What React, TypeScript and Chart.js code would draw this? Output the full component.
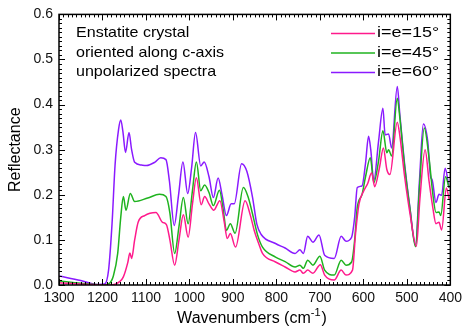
import React, { useEffect, useRef } from "react";
import { Chart, registerables } from "chart.js";

Chart.register(...registerables);

// i=e=60° (purple)
const wn60 = [1300, 1250, 1210, 1195, 1186, 1178, 1171, 1163, 1158, 1153, 1147, 1139, 1133, 1126, 1110, 1099, 1080, 1066, 1054, 1046, 1035, 1025, 1015, 1004, 995, 986, 974, 966, 955, 945, 934, 925, 915, 904, 897, 880, 868, 855, 845, 835, 802, 780, 757, 746, 738, 728, 716, 702, 689, 667, 651, 640, 627, 620, 614, 603, 595, 588, 583, 576, 565, 555, 550, 542, 535, 522, 516, 505, 493, 480, 471, 462, 452, 445, 442, 433, 426, 420, 412, 403];
const refl60 = [0.020, 0.010, 0.001, 0.002, 0.033, 0.136, 0.267, 0.345, 0.366, 0.340, 0.294, 0.338, 0.300, 0.272, 0.266, 0.265, 0.272, 0.282, 0.278, 0.230, 0.132, 0.200, 0.273, 0.203, 0.260, 0.338, 0.264, 0.273, 0.240, 0.194, 0.237, 0.200, 0.154, 0.180, 0.180, 0.269, 0.252, 0.195, 0.135, 0.112, 0.092, 0.082, 0.070, 0.078, 0.070, 0.108, 0.095, 0.111, 0.066, 0.059, 0.108, 0.097, 0.106, 0.150, 0.216, 0.220, 0.270, 0.330, 0.300, 0.231, 0.319, 0.392, 0.333, 0.335, 0.304, 0.440, 0.377, 0.267, 0.172, 0.088, 0.231, 0.357, 0.319, 0.238, 0.234, 0.183, 0.201, 0.199, 0.259, 0.216];

// i=e=45° (green)
const wn45 = [1300, 1250, 1200, 1185, 1175, 1165, 1158, 1152, 1146, 1136, 1126, 1096, 1069, 1054, 1045, 1034, 1024, 1014, 1003, 993, 984, 974, 965, 955, 945, 931, 922, 915, 906, 895, 876, 865, 855, 843, 832, 802, 780, 757, 746, 738, 728, 716, 700, 689, 667, 651, 640, 627, 620, 614, 603, 595, 584, 576, 565, 555, 546, 542, 535, 522, 516, 505, 493, 480, 471, 460, 449, 440, 433, 426, 422, 411, 403];
const refl45 = [0.009, 0.004, 0.000, 0.003, 0.020, 0.070, 0.150, 0.196, 0.166, 0.203, 0.185, 0.193, 0.201, 0.196, 0.160, 0.070, 0.130, 0.194, 0.136, 0.210, 0.273, 0.209, 0.222, 0.205, 0.176, 0.210, 0.165, 0.121, 0.136, 0.115, 0.216, 0.195, 0.158, 0.110, 0.084, 0.062, 0.052, 0.040, 0.044, 0.037, 0.055, 0.044, 0.064, 0.033, 0.022, 0.055, 0.044, 0.051, 0.100, 0.172, 0.201, 0.240, 0.282, 0.227, 0.275, 0.342, 0.293, 0.300, 0.286, 0.414, 0.370, 0.262, 0.170, 0.085, 0.215, 0.348, 0.282, 0.200, 0.161, 0.162, 0.154, 0.240, 0.216];

// i=e=15° (pink)
const wn15 = [1300, 1250, 1190, 1171, 1160, 1152, 1142, 1137, 1133, 1126, 1118, 1103, 1077, 1062, 1053, 1045, 1034, 1024, 1014, 1003, 993, 984, 973, 965, 955, 944, 930, 920, 913, 906, 894, 872, 860, 851, 840, 832, 802, 780, 757, 746, 738, 728, 716, 699, 689, 667, 651, 640, 625, 618, 610, 599, 590, 581, 574, 563, 554, 546, 539, 522, 516, 505, 493, 478, 470, 458, 449, 440, 433, 426, 420, 409, 403];
const refl15 = [0.005, 0.002, 0.000, 0.002, 0.008, 0.018, 0.049, 0.071, 0.059, 0.100, 0.139, 0.154, 0.161, 0.139, 0.134, 0.100, 0.044, 0.100, 0.156, 0.106, 0.180, 0.238, 0.178, 0.196, 0.180, 0.166, 0.187, 0.140, 0.103, 0.114, 0.084, 0.187, 0.155, 0.121, 0.090, 0.070, 0.051, 0.040, 0.029, 0.033, 0.026, 0.033, 0.026, 0.045, 0.022, 0.011, 0.033, 0.022, 0.033, 0.114, 0.180, 0.209, 0.225, 0.249, 0.218, 0.260, 0.304, 0.256, 0.245, 0.361, 0.330, 0.240, 0.160, 0.086, 0.190, 0.300, 0.231, 0.170, 0.136, 0.139, 0.122, 0.215, 0.191];

const seriesLabels = ["i=e=15°", "i=e=45°", "i=e=60°"];
const seriesColors = ["#ff1a8c", "#1fb31f", "#8a1aff"];
const noteLines = ["Enstatite crystal", "oriented along c-axis", "unpolarized spectra"];
const xTicks = [1300, 1200, 1100, 1000, 900, 800, 700, 600, 500, 400];

const FONT = "'Liberation Sans', Arial, sans-serif";

const toPts = (xs: number[], ys: number[]) => xs.map((x, i) => ({ x, y: ys[i] }));

const decor = {
  id: "decor",
  afterDraw(chart: any) {
    const { ctx, chartArea, scales } = chart;
    const { left, right, top, bottom } = chartArea;
    const x = scales.x;
    const y = scales.y;
    ctx.save();
    ctx.strokeStyle = "#000";
    ctx.lineWidth = 1;
    ctx.beginPath();
    for (let w = 400; w <= 1300; w += 10) {
      const px = Math.round(x.getPixelForValue(w)) + 0.5;
      const len = w % 100 === 0 ? 6 : 3;
      ctx.moveTo(px, bottom);
      ctx.lineTo(px, bottom - len);
      ctx.moveTo(px, top);
      ctx.lineTo(px, top + len);
    }
    for (let i = 0; i <= 60; i++) {
      const py = Math.round(y.getPixelForValue(i / 100)) + 0.5;
      const len = i % 10 === 0 ? 6 : 3;
      ctx.moveTo(left, py);
      ctx.lineTo(left + len, py);
      ctx.moveTo(right, py);
      ctx.lineTo(right - len, py);
    }
    ctx.stroke();
    ctx.lineWidth = 1.5;
    ctx.strokeRect(left, top, right - left, bottom - top);

    // annotation
    ctx.fillStyle = "#000";
    ctx.textBaseline = "middle";
    ctx.textAlign = "left";
    ctx.font = `15px ${FONT}`;
    const rowY = [33, 52.5, 72];
    noteLines.forEach((t, i) => {
      ctx.save();
      ctx.translate(left + 17, rowY[i]);
      ctx.scale(1.07, 1);
      ctx.fillText(t, 0, 0);
      ctx.restore();
    });

    // legend
    chart.data.datasets.forEach((ds: any, i: number) => {
      const yy = rowY[i] + 0.5;
      ctx.strokeStyle = ds.borderColor;
      ctx.lineWidth = 1.5;
      ctx.beginPath();
      ctx.moveTo(331, yy);
      ctx.lineTo(375, yy);
      ctx.stroke();
      ctx.save();
      ctx.translate(377, rowY[i]);
      ctx.scale(1.2, 1);
      ctx.font = `15px ${FONT}`;
      ctx.fillText(ds.label, 0, 0);
      ctx.restore();
    });

    // x title with superscript
    ctx.font = `16px ${FONT}`;
    const main = "Wavenumbers (cm";
    const sup = "-1";
    const close = ")";
    const wMain = ctx.measureText(main).width;
    ctx.font = `11px ${FONT}`;
    const wSup = ctx.measureText(sup).width;
    ctx.font = `16px ${FONT}`;
    const wClose = ctx.measureText(close).width;
    const total = wMain + wSup + wClose + 1;
    const cx = 252;
    let sx = cx - total / 2;
    const ty = 319;
    ctx.fillText(main, sx, ty);
    sx += wMain;
    ctx.font = `11px ${FONT}`;
    ctx.fillText(sup, sx, ty - 6);
    sx += wSup + 1;
    ctx.font = `16px ${FONT}`;
    ctx.fillText(close, sx, ty);

    // y title
    ctx.save();
    ctx.translate(16, (top + bottom) / 2);
    ctx.rotate(-Math.PI / 2);
    ctx.textAlign = "center";
    ctx.font = `16px ${FONT}`;
    ctx.fillText("Reflectance", 0, 0);
    ctx.restore();

    ctx.restore();
  },
};

export default function App() {
  const ref = useRef<HTMLCanvasElement | null>(null);
  useEffect(() => {
    if (!ref.current) return;
    const series = [toPts(wn15, refl15), toPts(wn45, refl45), toPts(wn60, refl60)];
    const chart = new Chart(ref.current, {
      type: "line",
      data: {
        datasets: series.map((d, i) => ({
          label: seriesLabels[i],
          data: d,
          borderColor: seriesColors[i],
          backgroundColor: seriesColors[i],
          borderWidth: 1.5,
          pointRadius: 0,
          fill: false,
          cubicInterpolationMode: "monotone" as const,
        })),
      },
      options: {
        animation: false,
        responsive: false,
        layout: { padding: { top: 11, right: 7, left: 0, bottom: 0 } },
        plugins: { legend: { display: false }, tooltip: { enabled: false }, title: { display: false } },
        scales: {
          x: {
            type: "linear",
            reverse: true,
            min: 400,
            max: 1300,
            grid: { display: false, drawTicks: false },
            border: { display: false },
            afterFit: (s: any) => { s.height = 46; },
            afterBuildTicks: (s: any) => { s.ticks = xTicks.map((v) => ({ value: v })); },
            ticks: {
              autoSkip: false,
              maxRotation: 0,
              padding: 5,
              color: "#111",
              font: { family: FONT, size: 14 },
              callback: (v: any) => String(v),
            },
          },
          y: {
            type: "linear",
            min: 0,
            max: 0.6,
            grid: { display: false, drawTicks: false },
            border: { display: false },
            afterFit: (s: any) => { s.width = 59; },
            ticks: {
              stepSize: 0.1,
              padding: 6,
              color: "#111",
              font: { family: FONT, size: 14 },
              callback: (v: any) => Number(v).toFixed(1),
            },
          },
        },
      },
      plugins: [decor],
    });
    return () => chart.destroy();
  }, []);
  return (
    <div style={{ position: "fixed", left: 0, top: 0, width: 467, height: 331, background: "#fff" }}>
      <canvas ref={ref} width={467} height={331} style={{ display: "block" }} />
    </div>
  );
}
